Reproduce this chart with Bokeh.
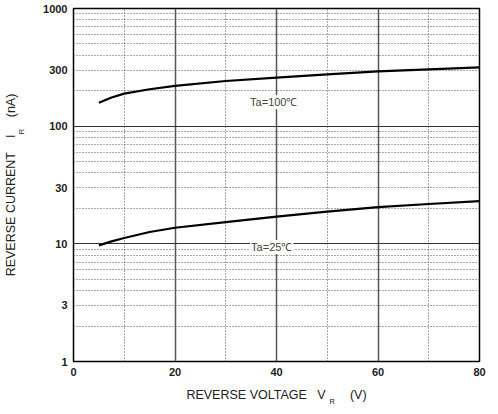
from bokeh.plotting import figure
from bokeh.models import FixedTicker, Label, LinearAxis, Range1d
from bokeh.embed import file_html
from bokeh.resources import INLINE

# reverse current vs reverse voltage
vr = [5, 7.5, 10, 15, 20, 30, 40, 50, 60, 70, 80]
ir_100 = [158, 175, 189, 206, 220, 242, 259, 276, 292, 304, 316]
ir_25 = [9.7, 10.5, 11.2, 12.6, 13.7, 15.3, 17.0, 18.8, 20.5, 21.8, 23.1]

x_major = [0, 20, 40, 60, 80]
x_minor = [10, 30, 50, 70]
y_major = [1, 10, 100, 1000]
y_minor = [m * d for d in (1, 10, 100) for m in range(2, 10)]
y_labels = [1, 3, 10, 30, 100, 300, 1000]

FONT = "Liberation Sans"
SP = "\u00a0"
TXT = "#222222"

p = figure(width=490, height=414, y_axis_type="log",
           x_range=Range1d(0, 80), y_range=Range1d(1, 1000),
           output_backend="svg", toolbar_location=None,
           min_border_left=72, min_border_right=11,
           min_border_top=8, min_border_bottom=53)

p.outline_line_color = "black"
p.outline_line_width = 1.5

# grid: solid at decades / every 20 V, dotted in between
p.xgrid.ticker = FixedTicker(ticks=x_major, minor_ticks=x_minor)
p.ygrid.ticker = FixedTicker(ticks=y_major, minor_ticks=y_minor)
for g in (p.xgrid, p.ygrid):
    g.grid_line_color = "#333333"
    g.grid_line_width = 1.2
    g.minor_grid_line_color = "#555555"
    g.minor_grid_line_dash = "1 2"
    g.minor_grid_line_width = 1
p.xgrid.grid_line_color = "#555555"
p.xgrid.grid_line_width = 1.5

# extra axes only carry the subscript "R" of V_R and I_R
x_sub = LinearAxis(ticker=FixedTicker(ticks=[51]), major_label_overrides={51: "R"})
y_sub = LinearAxis(ticker=FixedTicker(ticks=[90]), major_label_overrides={90: "R"},
                   major_label_orientation="vertical")
p.add_layout(x_sub, "below")
p.add_layout(y_sub, "left")

p.xaxis.ticker = FixedTicker(ticks=x_major)
p.yaxis.ticker = FixedTicker(ticks=y_labels)
p.yaxis[0].major_label_overrides = {v: str(v) for v in y_labels}
x_sub.ticker = FixedTicker(ticks=[51])
y_sub.ticker = FixedTicker(ticks=[90])
for ax in p.xaxis + p.yaxis:
    ax.axis_line_color = None
    ax.major_tick_line_color = None
    ax.minor_tick_line_color = None
    ax.major_tick_out = 0
    ax.major_tick_in = 0
    ax.major_label_standoff = 6
    ax.major_label_text_font = FONT
    ax.major_label_text_font_size = "11px"
    ax.major_label_text_font_style = "bold"
    ax.major_label_text_color = TXT
    ax.axis_label_text_font = FONT
    ax.axis_label_text_font_size = "12.5px"
    ax.axis_label_text_font_style = "normal"
    ax.axis_label_text_color = TXT

for ax in (x_sub, y_sub):
    ax.major_label_text_font_size = "7.5px"
    ax.major_label_text_font_style = "normal"
x_sub.major_label_standoff = -8
y_sub.major_label_standoff = 14

p.xaxis[0].axis_label = "REVERSE VOLTAGE" + SP * 3 + "V" + SP * 7 + "(V)"
p.xaxis[0].axis_label_standoff = 9
y_sub.axis_label = "REVERSE CURRENT" + SP * 4 + "I" + SP * 5 + "(nA)"
y_sub.axis_label_standoff = -3

p.line(vr, ir_100, line_color="black", line_width=2.2)
p.line(vr, ir_25, line_color="black", line_width=2.2)

for txt, x, y in [("Ta=100\u2103", 34.6, 160), ("Ta=25\u2103", 34.8, 9.4)]:
    p.add_layout(Label(x=x, y=y, text=txt, text_font=FONT, text_font_size="11px",
                       text_baseline="middle", text_align="left",
                       background_fill_color="white", padding=1))

open("out.html", "w").write(file_html(p, INLINE))
